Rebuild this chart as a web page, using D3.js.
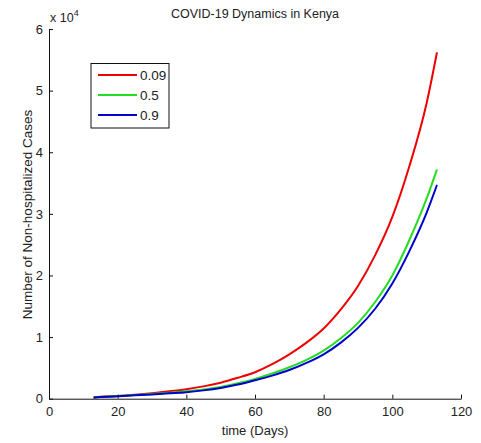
<!DOCTYPE html>
<html><head><meta charset="utf-8">
<script src="https://cdn.jsdelivr.net/npm/d3@7"></script>
<style>body{margin:0;background:#fff;} text{font-family:"Liberation Sans",Arial,sans-serif;fill:#222;}</style>
</head><body><svg id="c" width="481" height="443"></svg>
<script>
const days = [13,15,20,25,30,35,40,45,50,55,60,65,70,75,80,85,90,95,100,105,110,113];
const red09 = [0.02,0.03,0.045,0.065,0.09,0.12,0.155,0.2,0.26,0.34,0.43,0.56,0.72,0.91,1.14,1.45,1.83,2.33,2.95,3.78,4.8,5.62];
const green05 = [0.02,0.028,0.042,0.058,0.075,0.095,0.12,0.15,0.19,0.25,0.32,0.41,0.51,0.63,0.78,0.98,1.23,1.57,2.0,2.58,3.25,3.72];
const blue09 = [0.02,0.026,0.04,0.054,0.07,0.087,0.105,0.135,0.175,0.23,0.30,0.375,0.465,0.58,0.72,0.91,1.15,1.46,1.87,2.4,3.02,3.47];
const seriesNames = ["0.09","0.5","0.9"];
const xTicks = [0,20,40,60,80,100,120];
const yTicks = [0,1,2,3,4,5,6];
const title = "COVID-19 Dynamics in Kenya";
const xLabel = "time (Days)";
const yLabel = "Number of Non-hospitalized Cases";

const colors = ["#ee0000","#22dd22","#0000cc"];
const series = [red09, green05, blue09].map((v,i)=>({name:seriesNames[i], color:colors[i], pts:days.map((d,j)=>[d, v[j]*1e4])}));

const svg = d3.select("#c");
const x = d3.scaleLinear().domain([0,120]).range([49,461]);
const y = d3.scaleLinear().domain([0,6e4]).range([398.7,29]);

const line = d3.line().x(d=>x(d[0])).y(d=>y(d[1])).curve(d3.curveMonotoneX);
series.forEach(s=>{
  svg.append("path").attr("d", line(s.pts)).attr("fill","none").attr("stroke",s.color).attr("stroke-width",2);
});

const xa = svg.append("g").attr("transform",`translate(0,${y(0)})`)
  .call(d3.axisBottom(x).tickValues(xTicks).tickSizeInner(-4).tickSizeOuter(0).tickPadding(8));
const ya = svg.append("g").attr("transform",`translate(${x(0)},0)`)
  .call(d3.axisLeft(y).tickValues(yTicks.map(v=>v*1e4)).tickFormat(d=>d/1e4).tickSizeInner(-4).tickSizeOuter(0).tickPadding(6));
[xa,ya].forEach(a=>{
  a.selectAll("path,line").attr("stroke","#111").attr("stroke-width",1);
  a.selectAll("text").style("font-size","13px").attr("fill","#222").style("font-family","Liberation Sans, Arial, sans-serif");
});

svg.append("text").attr("x",255).attr("y",18).attr("text-anchor","middle").style("font-size","12.5px").text(title);
svg.append("text").attr("x",255).attr("y",435).attr("text-anchor","middle").style("font-size","13px").text(xLabel);
svg.append("text").attr("transform","translate(32,214.5) rotate(-90)").attr("text-anchor","middle").style("font-size","13.5px").text(yLabel);
const sx = svg.append("text").attr("x",50).attr("y",22).style("font-size","12.5px");
sx.append("tspan").text("x 10");
sx.append("tspan").attr("dy",-6).style("font-size","9px").text("4");

const lg = svg.append("g");
lg.append("rect").attr("x",91).attr("y",63.5).attr("width",78).attr("height",64.5).attr("fill","#fff").attr("stroke","#111");
series.forEach((s,i)=>{
  const yy = 75 + i*20;
  lg.append("line").attr("x1",98).attr("x2",137).attr("y1",yy).attr("y2",yy).attr("stroke",s.color).attr("stroke-width",2);
  lg.append("text").attr("x",140).attr("y",yy+5).style("font-size","13.5px").text(s.name);
});
</script></body></html>
